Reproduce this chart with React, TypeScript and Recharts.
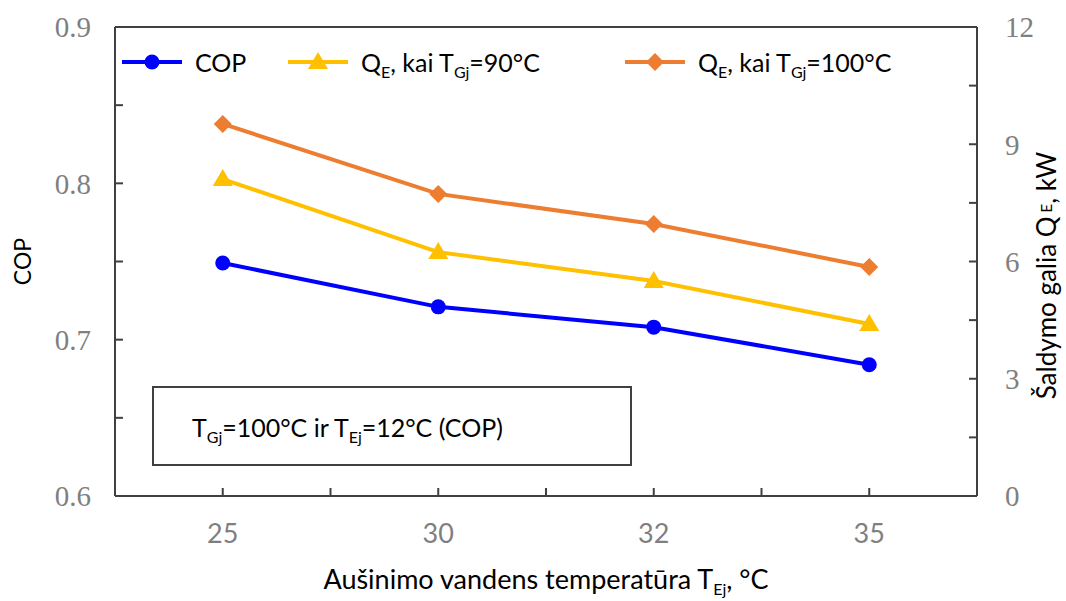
import React from 'react';
import { LineChart, Line, XAxis, YAxis, Label, ReferenceLine } from 'recharts';

const categories = ['25', '30', '32', '35'];
const copValues = [0.749, 0.721, 0.708, 0.684];
const q90Values = [8.11, 6.24, 5.5, 4.4];
const q100Values = [9.52, 7.73, 6.96, 5.86];

const copTicks = [0.6, 0.65, 0.7, 0.75, 0.8, 0.85, 0.9];
const copLabels = ['0.6', '0.7', '0.8', '0.9'];
const qTicks = [0, 1.5, 3, 4.5, 6, 7.5, 9, 10.5, 12];
const qLabels = ['0', '3', '6', '9', '12'];
const xTicks = [0.5, 1, 1.5, 2, 2.5, 3, 3.5];

const data = categories.map((c, i) => ({
  pos: i + 0.5,
  label: c,
  cop: copValues[i],
  q90: q90Values[i],
  q100: q100Values[i],
}));

const BLUE = '#0000ff';
const YELLOW = '#ffc000';
const ORANGE = '#ed7d31';
const AXIS = '#404040';
const SANS = 'Lato, "Open Sans", sans-serif';
const serifTick = { fontFamily: '"Liberation Serif", serif', fontSize: 29, fill: '#7f7f7f' };
const xTickFont = { fontFamily: SANS, fontSize: 27, fill: '#7f7f7f' };

const circle = (cx: number, cy: number, fill: string, key?: any) => (
  <circle key={key} cx={cx} cy={cy} r={7.5} fill={fill} />
);
const triangle = (cx: number, cy: number, fill: string, key?: any) => (
  <path key={key} d={`M${cx},${cy - 10}L${cx + 10},${cy + 7}L${cx - 10},${cy + 7}Z`} fill={fill} />
);
const diamond = (cx: number, cy: number, fill: string, key?: any) => (
  <path key={key} d={`M${cx},${cy - 9}L${cx + 9},${cy}L${cx},${cy + 9}L${cx - 9},${cy}Z`} fill={fill} />
);

const subStyle: React.CSSProperties = { fontSize: 16, verticalAlign: '-6px', lineHeight: 0 };

const legendItems = [
  { color: BLUE, marker: circle, left: 0, text: <>COP</> },
  { color: YELLOW, marker: triangle, left: 166, text: <>Q<sub style={subStyle}>E</sub>, kai T<sub style={subStyle}>Gj</sub>=90°C</> },
  { color: ORANGE, marker: diamond, left: 503, text: <>Q<sub style={subStyle}>E</sub>, kai T<sub style={subStyle}>Gj</sub>=100°C</> },
];

function ChartLegend() {
  return (
    <div style={{ position: 'absolute', left: 122, top: 47, height: 30, width: 820, fontFamily: SANS, fontSize: 25, color: '#000' }}>
      {legendItems.map((it, i) => (
        <div key={i} style={{ position: 'absolute', left: it.left, top: 0, height: 30, display: 'flex', alignItems: 'center', whiteSpace: 'nowrap' }}>
          <svg width={60} height={30}>
            <line x1={0} y1={15} x2={60} y2={15} stroke={it.color} strokeWidth={4} />
            {it.marker(30, 15, it.color)}
          </svg>
          <span style={{ marginLeft: 13 }}>{it.text}</span>
        </div>
      ))}
    </div>
  );
}

export default function App() {
  return (
    <div style={{ position: 'absolute', left: 0, top: 0, width: 1066, height: 601, background: '#fff' }}>
      <LineChart width={1066} height={601} data={data} margin={{ top: 27, right: 29, bottom: 55, left: 55 }} style={{ fontFamily: SANS }}>
        <XAxis
          dataKey="pos"
          type="number"
          domain={[0, 4]}
          ticks={xTicks}
          tickFormatter={(v: number) => (Number.isInteger(v) ? '' : categories[Math.floor(v)])}
          height={50}
          tickSize={-8}
          tickMargin={36}
          tick={xTickFont}
          axisLine={{ stroke: AXIS, strokeWidth: 2 }}
          tickLine={{ stroke: AXIS, strokeWidth: 2 }}
        >
          <Label
            content={({ viewBox }: any) => (
              <text x={viewBox.x + viewBox.width / 2} y={viewBox.y + 93} textAnchor="middle" fontFamily={SANS} fontSize={27} fill="#000">
                Aušinimo vandens temperatūra T<tspan fontSize={16} dy={6}>Ej</tspan><tspan dy={-6}>, °C</tspan>
              </text>
            )}
          />
        </XAxis>
        <YAxis
          yAxisId="left"
          domain={[0.6, 0.9]}
          ticks={copTicks}
          tickFormatter={(v: number) => (Math.abs(v * 10 - Math.round(v * 10)) < 1e-6 && copLabels.includes(v.toFixed(1)) ? v.toFixed(1) : '')}
          width={60}
          tickSize={-8}
          tickMargin={32}
          tick={serifTick}
          axisLine={{ stroke: AXIS, strokeWidth: 2 }}
          tickLine={{ stroke: AXIS, strokeWidth: 2 }}
        >
          <Label
            content={({ viewBox }: any) => {
              const cy = viewBox.y + viewBox.height / 2;
              return (
                <text x={22} y={cy} transform={`rotate(-90 22 ${cy})`} textAnchor="middle" dominantBaseline="central" fontFamily={SANS} fontSize={23} fill="#000">
                  COP
                </text>
              );
            }}
          />
        </YAxis>
        <YAxis
          yAxisId="right"
          orientation="right"
          domain={[0, 12]}
          ticks={qTicks}
          tickFormatter={(v: number) => (qLabels.includes(String(v)) ? String(v) : '')}
          width={60}
          tickSize={-8}
          tickMargin={36}
          tick={{ ...serifTick, textAnchor: 'start' }}
          axisLine={{ stroke: AXIS, strokeWidth: 2 }}
          tickLine={{ stroke: AXIS, strokeWidth: 2 }}
        >
          <Label
            content={({ viewBox }: any) => {
              const cy = viewBox.y + viewBox.height / 2 + 14;
              return (
                <text x={1046} y={cy} transform={`rotate(-90 1046 ${cy})`} textAnchor="middle" dominantBaseline="central" fontFamily={SANS} fontSize={26} fill="#000">
                  Šaldymo galia Q<tspan fontSize={15}> E</tspan>, kW
                </text>
              );
            }}
          />
        </YAxis>
        <ReferenceLine yAxisId="left" y={0.9} stroke={AXIS} strokeWidth={2} />
        <Line
          yAxisId="left"
          dataKey="cop"
          name="COP"
          stroke={BLUE}
          strokeWidth={4}
          isAnimationActive={false}
          dot={(p: any) => circle(p.cx, p.cy, BLUE, p.index)}
        />
        <Line
          yAxisId="right"
          dataKey="q90"
          name="QE 90"
          stroke={YELLOW}
          strokeWidth={4}
          isAnimationActive={false}
          dot={(p: any) => triangle(p.cx, p.cy, YELLOW, p.index)}
        />
        <Line
          yAxisId="right"
          dataKey="q100"
          name="QE 100"
          stroke={ORANGE}
          strokeWidth={4}
          isAnimationActive={false}
          dot={(p: any) => diamond(p.cx, p.cy, ORANGE, p.index)}
        />
      </LineChart>
      <ChartLegend />
      <div
        style={{
          position: 'absolute',
          left: 152,
          top: 386,
          width: 476,
          height: 76,
          border: `2px solid ${AXIS}`,
          background: '#fff',
          fontFamily: SANS,
          fontSize: 25,
          color: '#000',
        }}
      >
        <div style={{ position: 'absolute', left: 38, top: 24, whiteSpace: 'nowrap' }}>
          T<sub style={subStyle}>Gj</sub>=100°C ir T<sub style={subStyle}>Ej</sub>=12°C (COP)
        </div>
      </div>
    </div>
  );
}
